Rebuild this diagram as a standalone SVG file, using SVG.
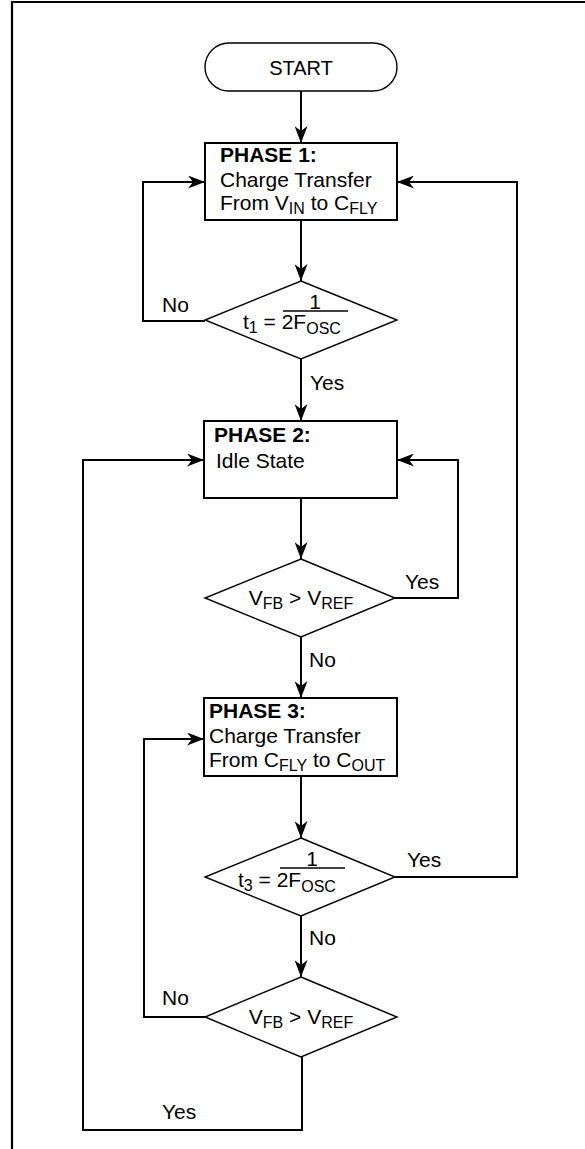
<svg xmlns="http://www.w3.org/2000/svg" width="585" height="1149" viewBox="0 0 585 1149">
<style>
text{font-family:"Liberation Sans",Arial,sans-serif;font-size:21px;fill:#000}
.b{font-weight:bold}
.s{font-size:16px}
.box{fill:#fff;stroke:#000;stroke-width:2}
.dia{fill:#fff;stroke:#000;stroke-width:1.4}
.pill{fill:#fff;stroke:#000;stroke-width:1.4}
.c{fill:none;stroke:#000;stroke-width:2}
.frame{fill:none;stroke:#000;stroke-width:2.2}
.fr{stroke:#000;stroke-width:1.4}
</style>
<defs>
<marker id="ah" markerUnits="userSpaceOnUse" viewBox="0 0 17 13" refX="17" refY="6.5" markerWidth="17" markerHeight="13" orient="auto">
<path d="M17 6.5 L0 0 L5 6.5 L0 13 Z" fill="#000"/>
</marker>
</defs>
<path class="frame" d="M12 1149 V2 H585"/>
<g id="connectors">
<path class="c" d="M301 91 V143" marker-end="url(#ah)"/>
<path class="c" d="M301 220 V281" marker-end="url(#ah)"/>
<path class="c" d="M205 321 H143 V182 H205" marker-end="url(#ah)"/>
<path class="c" d="M301 359 V421" marker-end="url(#ah)"/>
<path class="c" d="M301 498 V559" marker-end="url(#ah)"/>
<path class="c" d="M395 598 H458 V460 H397" marker-end="url(#ah)"/>
<path class="c" d="M301 637 V698" marker-end="url(#ah)"/>
<path class="c" d="M301 776 V838" marker-end="url(#ah)"/>
<path class="c" d="M395 877 H517 V182 H397" marker-end="url(#ah)"/>
<path class="c" d="M301 916 V977" marker-end="url(#ah)"/>
<path class="c" d="M205 1017 H144 V739 H204" marker-end="url(#ah)"/>
<path class="c" d="M302 1057 V1130 H83 V460 H204" marker-end="url(#ah)"/>
<text x="162" y="312">No</text>
<text x="310" y="390">Yes</text>
<text x="405" y="589">Yes</text>
<text x="309" y="667">No</text>
<text x="407" y="867">Yes</text>
<text x="309" y="945">No</text>
<text x="162" y="1005">No</text>
<text x="162" y="1119">Yes</text>
</g>
<g id="start">
<rect class="pill" x="205" y="43" width="192" height="48" rx="24" ry="24"/>
<text x="301" y="75" text-anchor="middle" style="font-size:20px">START</text>
</g>
<g id="phase1">
<rect class="box" x="205" y="143" width="192" height="77"/>
<text x="220" y="162" class="b">PHASE 1:</text>
<text x="220" y="187">Charge Transfer</text>
<text x="220" y="210">From V<tspan class="s" dy="4">IN</tspan><tspan dy="-4"> to C</tspan><tspan class="s" dy="4">FLY</tspan></text>
</g>
<g id="decision1">
<polygon class="dia" points="301,281 397,320 301,359 205,320"/>
<text x="315" y="309" text-anchor="middle">1</text>
<line class="fr" x1="283" y1="311" x2="348" y2="311"/>
<text x="243" y="329">t<tspan class="s" dy="4">1</tspan><tspan dy="-4"> = 2F</tspan><tspan class="s" dy="5">OSC</tspan></text>
</g>
<g id="phase2">
<rect class="box" x="204" y="421" width="193" height="77"/>
<text x="214" y="442" class="b">PHASE 2:</text>
<text x="216" y="468">Idle State</text>
</g>
<g id="decision2">
<polygon class="dia" points="301,559 395,598 301,637 205,598"/>
<text x="301" y="605" text-anchor="middle">V<tspan class="s" dy="4">FB</tspan><tspan dy="-4"> &gt; V</tspan><tspan class="s" dy="4">REF</tspan></text>
</g>
<g id="phase3">
<rect class="box" x="204" y="698" width="193" height="78"/>
<text x="209" y="718" class="b">PHASE 3:</text>
<text x="209" y="743">Charge Transfer</text>
<text x="209" y="767">From C<tspan class="s" dy="4">FLY</tspan><tspan dy="-4"> to C</tspan><tspan class="s" dy="4">OUT</tspan></text>
</g>
<g id="decision3">
<polygon class="dia" points="301,838 395,877 301,916 205,877"/>
<text x="312" y="866" text-anchor="middle">1</text>
<line class="fr" x1="280" y1="868" x2="345" y2="868"/>
<text x="238" y="887">t<tspan class="s" dy="4">3</tspan><tspan dy="-4"> = 2F</tspan><tspan class="s" dy="5">OSC</tspan></text>
</g>
<g id="decision4">
<polygon class="dia" points="301,977 397,1017 301,1057 205,1017"/>
<text x="301" y="1024" text-anchor="middle">V<tspan class="s" dy="4">FB</tspan><tspan dy="-4"> &gt; V</tspan><tspan class="s" dy="4">REF</tspan></text>
</g>
</svg>
